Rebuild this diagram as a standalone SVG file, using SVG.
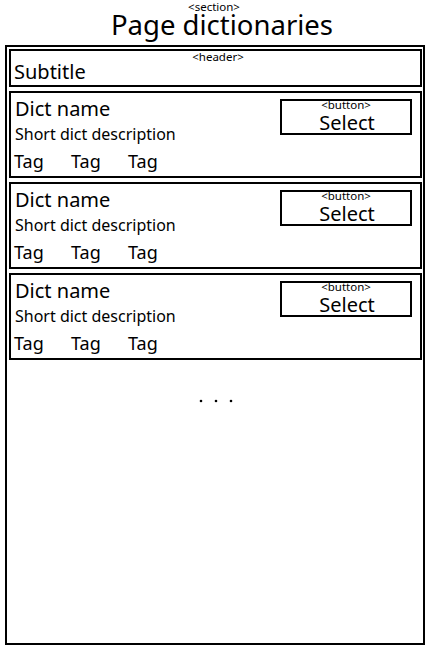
<svg xmlns="http://www.w3.org/2000/svg" width="430" height="650" viewBox="0 0 430 650">
<style>
text{font-family:"Noto Sans","Open Sans",sans-serif;fill:#000}
.box{fill:none;stroke:#000;stroke-width:2}
.sm{font-size:11.5px}
.mid{text-anchor:middle}
.nm{font-size:20px}
.ds{font-size:16px}
.tg{font-size:18px}
</style>
<rect width="430" height="650" fill="#fff"/>
<g id="section">
<text class="sm mid" x="214" y="11">&lt;section&gt;</text>
<text class="mid" x="222" y="35" font-size="27.5">Page dictionaries</text>
<rect class="box" x="6" y="46" width="418" height="598"/>
</g>
<g id="header">
<rect class="box" x="10" y="50" width="411" height="36"/>
<text class="sm mid" x="218" y="61">&lt;header&gt;</text>
<text class="nm" x="14" y="79">Subtitle</text>
</g>
<g id="card1">
<rect class="box" x="10" y="92" width="411" height="85"/>
<text class="nm" x="15" y="116">Dict name</text>
<text class="ds" x="15" y="140">Short dict description</text>
<text class="tg" x="14" y="168">Tag</text>
<text class="tg" x="71" y="168">Tag</text>
<text class="tg" x="128" y="168">Tag</text>
<g id="button1">
<rect class="box" x="281" y="100" width="130" height="34"/>
<text class="sm mid" x="346" y="109">&lt;button&gt;</text>
<text class="nm mid" x="347" y="130">Select</text>
</g>
</g>
<g id="card2">
<rect class="box" x="10" y="183" width="411" height="85"/>
<text class="nm" x="15" y="207">Dict name</text>
<text class="ds" x="15" y="231">Short dict description</text>
<text class="tg" x="14" y="259">Tag</text>
<text class="tg" x="71" y="259">Tag</text>
<text class="tg" x="128" y="259">Tag</text>
<g id="button2">
<rect class="box" x="281" y="191" width="130" height="34"/>
<text class="sm mid" x="346" y="200">&lt;button&gt;</text>
<text class="nm mid" x="347" y="221">Select</text>
</g>
</g>
<g id="card3">
<rect class="box" x="10" y="274" width="411" height="85"/>
<text class="nm" x="15" y="298">Dict name</text>
<text class="ds" x="15" y="322">Short dict description</text>
<text class="tg" x="14" y="350">Tag</text>
<text class="tg" x="71" y="350">Tag</text>
<text class="tg" x="128" y="350">Tag</text>
<g id="button3">
<rect class="box" x="281" y="282" width="130" height="34"/>
<text class="sm mid" x="346" y="291">&lt;button&gt;</text>
<text class="nm mid" x="347" y="312">Select</text>
</g>
</g>
<g id="more">
<circle cx="201" cy="401" r="1.3"/>
<circle cx="216" cy="401" r="1.3"/>
<circle cx="231" cy="401" r="1.3"/>
</g>
<g id="connectors"></g>
</svg>
